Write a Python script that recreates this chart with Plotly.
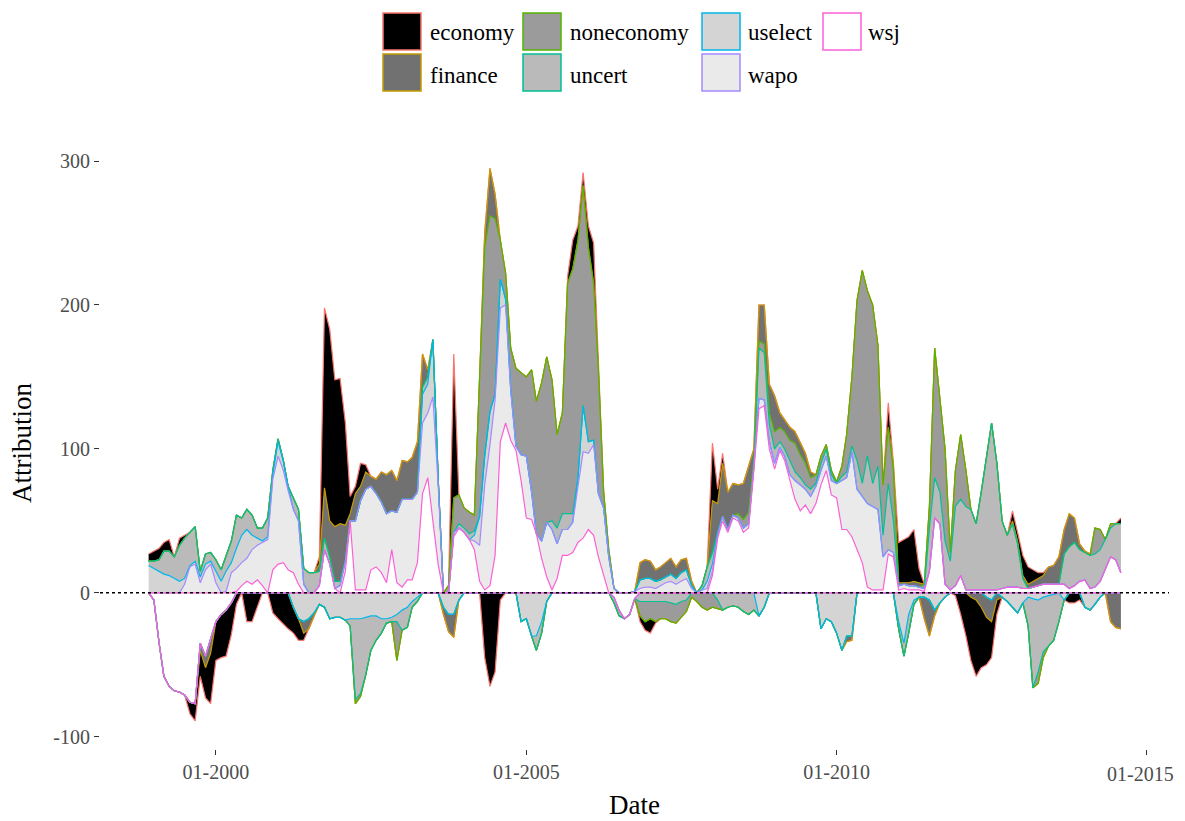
import numpy as np
import pandas as pd
import plotly.graph_objects as go

# ---------------- data (monthly, 1998-12 .. 2014-08) ----------------
dates = pd.date_range("1998-12-01", periods=189, freq="MS")

economy = [5,
    7, 8, 6, 8, 0, 5, 2, -8, -12, -18, -21, -35,
    -27, -30, -32, -22, -8, 0, -20, -20, -10, 0, 0, -14,
    -18, -22, -25, -18, -15, -5, 0, 0, 5, 125, 133, 102,
    101, 71, 12, 5, 16, 5, 0, 0, 0, 0, 0, 0,
    0, 0, 0, 0, 0, 0, 0, 0, 0, 0, 100, 0,
    0, 0, 0, 0, -45, -65, -55, -5, 0, 0, 0, 0,
    0, 0, 0, 0, 0, 0, 0, 0, 5, 20, 10, 9,
    15, 28, 0, 0, 0, 0, 0, 0, 0, 0, -4, -6,
    -10, -1, 0, 0, 0, 0, 0, 0, 0, 0, 0, 0,
    40, 10, 7, 0, 0, 0, 0, 0, 0, 0, 0, 0,
    0, 0, 0, 0, 0, 0, 0, 0, 0, 0, 0, 0,
    0, 0, 0, 0, 0, 0, 0, 0, 0, 0, 17, 0,
    28, 30, 32, 36, 10, 0, 0, 0, 0, 0, 0, -2,
    -15, -30, -44, -53, -42, -33, -25, -10, 0, 0, 7, 6,
    14, 12, 8, 4, 2, 0, 0, 0, 0, -7, -7, -5,
    0, 0, 0, 0, 0, 0, 0, 4]

finance = [0,
    0, 0, 0, 0, 0, 0, 0, 0, 0, -5, -8, -10,
    0, 0, 0, 0, 0, 0, 0, 0, 0, 0, 0, 0,
    0, 0, 0, 0, 0, -8, -7, -2, 5, 35, 25, 38,
    40, 25, 5, 19, 10, 12, 7, 10, 21, 27, 28, 22,
    27, 26, 29, 35, 23, 5, 0, 0, -5, -12, -16, 0,
    0, 0, 0, 0, 10, 33, 17, 0, 0, 0, 0, 0,
    0, 0, 0, 0, 0, 0, 0, 0, 0, 0, 0, 0,
    0, 0, 0, 0, 0, 0, 0, 0, 0, 0, 12, 13,
    12, 8, 9, 10, 11, 8, 9, 8, 3, 0, 0, 0,
    36, 20, 37, 26, 22, 20, 25, 32, 8, 25, 27, 20,
    25, 10, 8, 9, 8, 8, 7, 4, 0, 0, 0, 0,
    0, 0, -4, -3, 0, 0, 0, 0, 0, 0, 0, 5,
    2, 1, 2, 3, 3, -15, -25, -4, 0, 0, 0, 0,
    0, 0, -3, -5, -10, -14, -15, -5, 0, 0, 2, 2,
    2, 3, 4, 5, 6, 12, 13, 19, 17, 23, 17, 4,
    1, 1, 0, 0, 0, -20, -24, -25]

noneconomy = [0,
    0, 0, 0, 0, 0, 0, 0, 0, 0, 0, 0, 0,
    0, 0, 0, 0, 0, 0, 0, 0, 0, 0, 0, 0,
    0, 0, 0, 0, 0, 0, 0, 0, 0, 0, 0, 0,
    0, 0, 0, -3, -2, 0, 0, 0, 0, 0, 0, -27,
    0, 0, 0, 0, 0, 0, 0, 0, 0, 5, 24, 20,
    14, 15, 11, 97, 145, 136, 122, 27, 18, 28, 54, 57,
    55, 85, 92, 110, 115, 98, 65, 70, 160, 170, 165, 153,
    135, 109, 86, 11, 5, 0, 0, 0, 0, 0, -10, -14,
    -12, -14, -12, -12, -13, -13, -11, -8, -3, -6, -10, -12,
    -10, -6, 0, 0, 0, 3, 6, 8, 4, 5, 6, 8,
    12, 10, 12, 14, 20, 16, 15, 8, 6, 5, 3, 3,
    1, 7, 26, 48, 111, 148, 115, 124, 84, 35, 39, 35,
    0, 0, 0, 0, 0, 3, 15, 90, 65, 64, 6, 25,
    45, 25, 0, 0, 0, 0, 0, 0, 0, 0, 0, 0,
    0, 0, 0, -8, -4, 0, 0, 0, 0, 0, 0, 0,
    0, 0, 18, 14, 0, 3, 0, 0]

uncert = [3,
    5, 8, 16, 17, 15, 25, 28, 23, 24, 4, 7, 6,
    8, 8, 10, 15, 23, 12, 14, 14, 7, 9, 13, 3,
    2, 1, 0, 8, 8, 11, 14, 14, 10, 8, 5, 5,
    3, 0, -5, -56, -52, -40, -24, -17, -10, -3, -3, -5,
    -14, -14, -4, -3, 5, 5, 0, 0, 0, 0, 0, 3,
    3, 4, 3, 0, 0, 0, 0, 0, 0, 0, 0, 0,
    0, 0, -10, -8, 0, 6, 11, 11, 11, 6, 0, 0,
    0, 0, 0, 0, 0, -4, -4, 0, 0, 0, -6, -6,
    -6, -6, -6, -6, -7, -8, -6, -5, 0, 0, 3, 10,
    8, -5, -12, -10, -9, -10, -13, -15, -12, 35, 33, 12,
    10, 4, 5, 10, 6, 5, 3, 5, 2, 5, 5, 4,
    0, 3, 4, 4, 20, 9, 33, 16, 30, 15, 46, 22,
    -5, -9, -13, -3, 0, 0, 30, 28, 22, 30, 20, 55,
    53, 58, 56, 46, 68, 91, 116, 88, 47, 36, 44, 30,
    7, -20, -62, -50, -38, -35, -32, -20, 21, 29, 30, 22,
    19, 23, 23, 22, 21, 20, 25, 34]

uselect = [19,
    17, 15, 13, 12, 10, 8, 4, 1, 2, 4, 4, 2,
    8, 8, 14, 7, 14, 19, 20, 10, 5, 1, 2, 3,
    10, 6, 3, -10, -18, -20, -18, -14, -8, -10, -18, -17,
    -17, -19, -18, -18, -18, -17, -16, -16, -18, -18, -17, -15,
    -12, -10, -6, -3, 20, 20, 40, 5, -10, -15, -15, -5,
    0, 0, 4, 20, 20, 23, 4, 20, 4, 2, 0, -20,
    -18, -30, -30, -20, -6, 0, 0, 0, 0, 0, 5, 32,
    8, 3, 0, 0, 0, 0, 0, 0, 0, 0, 6, 6,
    6, 5, 4, 4, 5, 4, 6, 6, 2, 0, 0, 5,
    5, 2, 0, 0, 0, 0, 0, 0, 0, -16, -10, 0,
    0, 0, 0, 0, 0, 0, 0, 0, 0, -25, -18, -20,
    -28, -40, -30, -30, 0, 0, 0, 0, 0, 0, 0, 0,
    -20, -35, -15, -5, -3, -3, -5, -12, -7, -3, 0, 0,
    0, 0, 0, 0, 0, -3, -5, 0, -3, -6, -10, -14,
    -7, -3, -4, -5, -3, -2, -1, 0, -5, 0, 0, 0,
    -10, -12, -8, -3, 0, 0, 0, 0]

wapo = [0,
    0, 0, 0, 0, 0, 0, 6, 18, 20, 7, 16, 20,
    7, 0, 1, 14, 16, 16, 16, 24, 24, 30, 37, 63,
    75, 64, 55, 44, 44, 6, 0, 0, 0, 0, 0, 0,
    5, 7, 0, 48, 62, 70, 58, 51, 49, 48, 27, 49,
    61, 56, 56, 49, 49, 45, 86, 55, 0, 0, 3, 0,
    0, 0, 6, 25, 73, 98, 108, 93, 82, 34, 3, 18,
    43, 19, 0, 12, 38, 42, 24, 18, 18, 21, 40, 60,
    53, 63, 44, 46, 25, 3, 0, 0, 0, 1, 3, 4,
    4, 3, 5, 7, 8, 6, 8, 10, 3, 0, 2, 3,
    3, 2, 3, 2, 2, 2, 3, 3, 3, 7, 4, 5,
    4, 2, 3, 4, 13, 18, 11, 12, 12, 10, 10, 10,
    10, 34, 36, 59, 42, 46, 58, 58, 56, 23, 3, 3,
    3, 3, 3, 3, 2, 2, 0, 0, 0, 0, 0, 0,
    0, 0, 0, 0, 0, 0, 0, 0, 0, 0, 0, 0,
    0, 0, 0, 0, 0, 0, 0, 0, 0, 0, 0, 0,
    0, 0, 0, 0, 0, 0, 0, 0]

wsj = [0,
    -5, -35, -58, -65, -68, -69, -71, -76, -77, -35, -44, -32,
    -20, -15, -12, -7, 1, 5, 8, 6, 9, 5, 0, 16,
    20, 21, 16, 14, 6, 0, 0, 0, 5, 30, 20, 3,
    0, 15, 50, 2, 2, 2, 16, 18, 14, 7, 30, 7,
    4, 9, 9, 21, 69, 80, 50, 20, 0, 0, 39, 45,
    42, 37, 30, 8, 2, 5, 26, 105, 118, 106, 99, 78,
    52, 51, 41, 24, 11, 2, 10, 26, 26, 28, 35, 38,
    44, 40, 25, 13, 0, -3, -12, -18, -15, -4, 0, 0,
    0, 0, 0, 0, 0, 0, 0, 0, 0, 0, 0, 0,
    12, 38, 50, 42, 52, 50, 42, 45, 85, 128, 130, 100,
    86, 99, 92, 78, 65, 57, 61, 55, 62, 75, 85, 68,
    66, 44, 44, 39, 30, 21, 4, 2, 2, 2, 27, 25,
    2, 3, 2, 2, 2, 1, 15, 52, 48, 6, 2, 5,
    12, 2, 2, 2, 2, 2, 2, 2, 3, 4, 4, 4,
    3, 3, 4, 5, 6, 6, 6, 6, 6, 3, 5, 8,
    9, 3, 4, 8, 16, 25, 23, 14]

series = {"economy": economy, "finance": finance, "noneconomy": noneconomy,
          "uncert": uncert, "uselect": uselect, "wapo": wapo, "wsj": wsj}
legend_order = ["economy", "finance", "noneconomy", "uncert", "uselect", "wapo", "wsj"]
stack_order = ["wsj", "wapo", "uselect", "uncert", "noneconomy", "finance", "economy"]

fill_colors = {"economy": "#000000", "finance": "#717171", "noneconomy": "#9B9B9B",
               "uncert": "#BABABA", "uselect": "#D4D4D4", "wapo": "#EAEAEA", "wsj": "#FFFFFF"}
line_colors = {"economy": "#F8766D", "finance": "#C49A00", "noneconomy": "#53B400",
               "uncert": "#00C094", "uselect": "#00B6EB", "wapo": "#A58AFF", "wsj": "#FB61D7"}

x_ticks = ["2000-01-01", "2005-01-01", "2010-01-01", "2015-01-01"]
x_tick_text = ["01-2000", "01-2005", "01-2010", "01-2015"]
y_ticks = [-100, 0, 100, 200, 300]
y_tick_text = ["-100", "0", "100", "200", "300"]

FONT = "Liberation Serif, Times New Roman, serif"
TICK_FONT = dict(family=FONT, size=20, color="#4D4D4D")
OFF = 8                      # page offset of the figure (body margin)
W, H = 1185 - OFF, 821 - OFF
# plot panel in page pixels: x 100..1169, y 133..749
ML, MT = 100 - OFF, 133 - OFF
MR, MB = W - (1169 - OFF), H - (749 - OFF)

fig = go.Figure()

# filled stacked areas (positive and negative parts stacked separately)
for sign in ("pos", "neg"):
    for name in stack_order:
        v = np.asarray(series[name], dtype=float)
        part = np.clip(v, 0, None) if sign == "pos" else np.clip(v, None, 0)
        fig.add_trace(go.Scatter(
            x=dates, y=part, stackgroup=sign, mode="lines",
            line=dict(width=0), fillcolor=fill_colors[name],
            showlegend=False, hoverinfo="skip"))

# outlines: outermost series first, innermost (wsj) last so inner colours sit on top
cum = {}
for sign in ("pos", "neg"):
    run = np.zeros(len(dates))
    for name in stack_order:
        v = np.asarray(series[name], dtype=float)
        part = np.clip(v, 0, None) if sign == "pos" else np.clip(v, None, 0)
        run = run + part
        cum[(sign, name)] = run.copy()

for name in reversed(stack_order):
    for sign in ("pos", "neg"):
        fig.add_trace(go.Scatter(
            x=dates, y=cum[(sign, name)], mode="lines",
            line=dict(color=line_colors[name], width=1.2),
            showlegend=False, hoverinfo="skip"))

# zero reference line
fig.add_shape(type="line", xref="paper", yref="y", x0=0, x1=1, y0=0, y1=0,
              line=dict(color="black", width=1.5, dash="dot"), layer="above")

pw, ph = W - ML - MR, H - MT - MB
def px(xp):          # page x pixel -> paper
    return (xp - OFF - ML) / pw
def py(yp):          # page y pixel -> paper
    return (H - MB - (yp - OFF)) / ph

# manual legend (two rows, column-major like ggplot)
legend_cols = [(383, 428), (523, 568), (702, 746), (823, 866)]
legend_rows = [(13, 50, 33), (54, 91, 75)]
for k, name in enumerate(legend_order):
    col, row = divmod(k, 2)
    bx, tx = legend_cols[col]
    y0, y1, ty = legend_rows[row]
    fig.add_shape(type="rect", xref="paper", yref="paper",
                  x0=px(bx), x1=px(bx + 38), y0=py(y1), y1=py(y0),
                  fillcolor=fill_colors[name],
                  line=dict(color=line_colors[name], width=1.5))
    fig.add_annotation(text=name, xref="paper", yref="paper", x=px(tx), y=py(ty),
                       xanchor="left", yanchor="middle", showarrow=False,
                       font=dict(family=FONT, size=23, color="black"))

# last x tick label sits at the page edge: draw it right-aligned so it is not clipped
shown_tick_text = x_tick_text[:-1] + [""]
fig.add_annotation(text=x_tick_text[-1], xref="paper", yref="paper",
                   x=px(1176), y=py(774), xanchor="right", yanchor="middle",
                   showarrow=False, font=TICK_FONT)

# axis titles
fig.add_annotation(text="Date", xref="paper", yref="paper", x=px(634), y=py(805),
                   xanchor="center", yanchor="middle", showarrow=False,
                   font=dict(family=FONT, size=27, color="black"))
fig.add_annotation(text="Attribution", xref="paper", yref="paper", x=px(22), y=py(443),
                   xanchor="center", yanchor="middle", showarrow=False, textangle=-90,
                   font=dict(family=FONT, size=27, color="black"))

fig.update_layout(
    width=W, height=H,
    margin=dict(l=ML, r=MR, t=MT, b=MB, autoexpand=False),
    paper_bgcolor="white", plot_bgcolor="white",
    showlegend=False,
    font=dict(family=FONT),
    xaxis=dict(type="date", range=["1998-02-18", "2015-05-11"],
               tickvals=x_ticks, ticktext=shown_tick_text, automargin=False,
               showgrid=False, zeroline=False, showline=False,
               ticks="outside", ticklen=5, tickcolor="#333333", tickwidth=1,
               tickfont=TICK_FONT),
    yaxis=dict(range=[-108.5, 319.5], tickvals=y_ticks, ticktext=y_tick_text,
               automargin=False,
               showgrid=False, zeroline=False, showline=False,
               ticks="outside", ticklen=5, tickcolor="#333333", tickwidth=1,
               tickfont=TICK_FONT),
)

fig.write_html("out.html")
